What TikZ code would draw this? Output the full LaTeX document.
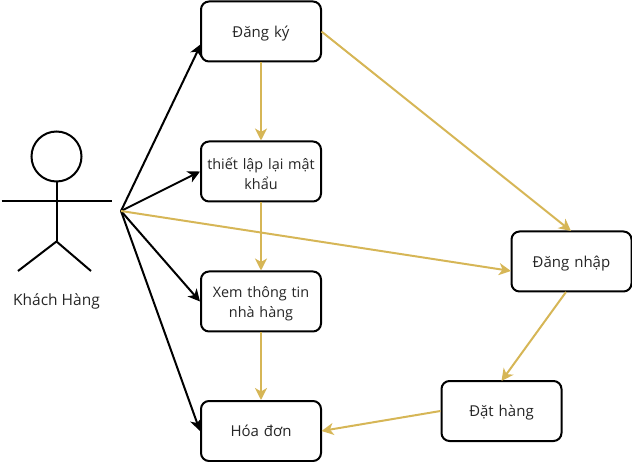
\documentclass[tikz,border=0pt]{standalone}
\usepackage{fontspec}
\setmainfont{Open Sans}
\usetikzlibrary{arrows.meta}
\definecolor{gold}{HTML}{D6B656}
\tikzset{
  box/.style={draw=black,line width=2pt,rounded corners=8pt,fill=white,minimum width=120pt,minimum height=60pt,inner sep=1pt,text width=118pt,align=center,font=\fontsize{15}{20}\selectfont,text=black!85,execute at end node={\par\vspace{-4pt}}},
  small/.style={font=\fontsize{14.4}{20}\selectfont},
  link/.style={line width=2pt,-{Stealth[length=12pt,width=12pt,inset=3.5pt]}},
  blk/.style={link,draw=black},
  yel/.style={link,draw=gold},
  stick/.style={draw=black,line width=2pt}
}
\begin{document}
\begin{tikzpicture}[x=1pt,y=-1pt]
\useasboundingbox (0,0) rectangle (632,462);
\node[box] (dk) at (261,31.5) {Đăng ký};
\node[box,small] (tl) at (261,171.5) {thiết lập lại mật\\khẩu};
\node[box,small] (xem) at (261,301.5) {Xem thông tin\\nhà hàng};
\node[box] (hd) at (261,431) {Hóa đơn};
\node[box] (dn) at (571.5,261.5) {Đăng nhập};
\node[box] (dh) at (501.5,411) {Đặt hàng};
% actor
\node[draw=black,line width=2pt,circle,minimum size=50pt,inner sep=0pt] (head) at (56.5,156.5) {};
\coordinate (hip) at (56.5,241.5);
\coordinate (armL) at (1.5,201);
\coordinate (armR) at (111.5,201);
\coordinate (legL) at (18,271);
\coordinate (legR) at (91,271);
\draw[stick] (head.south) -- (hip);
\draw[stick] (armL) -- (armR);
\draw[stick] (legL) -- (hip) -- (legR);
\node[font=\fontsize{15.5}{20}\selectfont,text=black!85] (lbl) at (56.5,301.5) {Khách Hàng};
\coordinate (hub) at (121,211);
\coordinate (dkin) at (201,44);
\coordinate (dnin) at (511,271);
\coordinate (dnout) at (566,292);
\coordinate (dnin2) at (571,231);
\coordinate (dhin) at (501.5,381);
\coordinate (hdin) at (321.5,431);
\coordinate (dkout) at (321.5,31.5);
\draw[blk] (hub) -- (dkin);
\draw[blk] (hub) -- (tl.west);
\draw[blk] (hub) -- (xem.west);
\draw[blk] (hub) -- (hd.west);
\draw[yel] (hub) -- (dnin);
\draw[yel] (dk.south) -- (tl.north);
\draw[yel] (tl.south) -- (xem.north);
\draw[yel] (xem.south) -- (hd.north);
\draw[yel] (dkout) -- (dnin2);
\draw[yel] (dnout) -- (dhin);
\draw[yel] (dh.west) -- (hdin);
\end{tikzpicture}
\end{document}
